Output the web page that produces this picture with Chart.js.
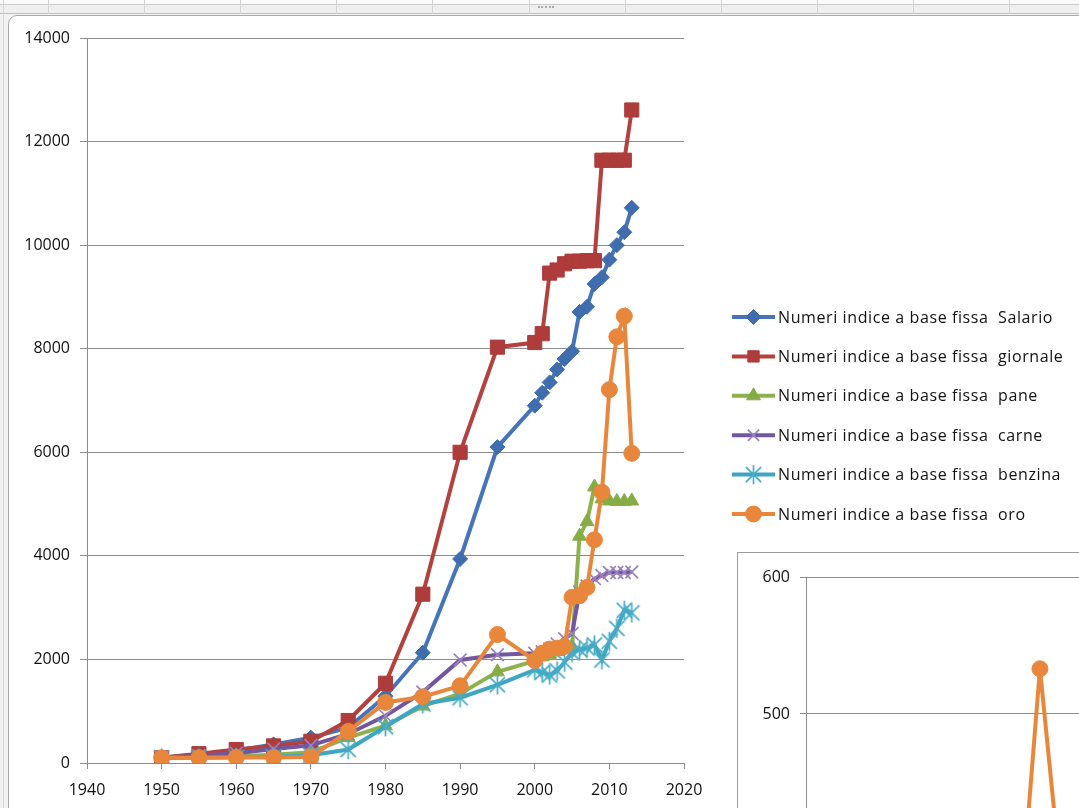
<!DOCTYPE html>
<html>
<head>
<meta charset="utf-8">
<title>Numeri indice a base fissa</title>
<script src="https://cdn.jsdelivr.net/npm/chart.js@4/dist/chart.umd.min.js"></script>
<style>
  html, body { margin: 0; padding: 0; width: 1079px; height: 808px; overflow: hidden; background: #f1f1f1; }
  #sheet { position: absolute; left: 0; top: 0; width: 1079px; height: 15px;
    background: linear-gradient(#fafafa 0 4px, #cbcbcb 4px 5px, #efefef 5px 13px, #bdbdbd 13px 14px, #f4f4f4 14px); }
  .col { position: absolute; top: 0; width: 1px; height: 14px; background: #d4d4d4; }
  #grip { position: absolute; left: 538px; top: 6px; width: 16px; height: 2px; border-top: 2px dotted #a8a8a8; }
  #leftRule { position: absolute; left: 3px; top: 0; width: 1px; height: 808px; background: #d8d8d8; }
  #frame { position: absolute; left: 8px; top: 15px; width: 1200px; height: 900px; background: #fff;
    border: 1px solid #a9a9a9; border-top-left-radius: 9px; }
  #main { position: absolute; left: 0; top: 0; }
  #insetBox { position: absolute; left: 737px; top: 552px; width: 800px; height: 900px; background: #fff; border: 1px solid #9c9c9c; }
  #inset { position: absolute; left: 738px; top: 553px; }
</style>
</head>
<body>
<div id="sheet"></div>
<div id="leftRule"></div>
<div id="grip"></div>
<div id="frame"></div>
<canvas id="main" width="1079" height="808"></canvas>
<div id="insetBox"></div>
<canvas id="inset" width="753" height="886"></canvas>
<script>
// spreadsheet column separators along the top strip
[48, 144, 240, 336, 432, 529, 625, 721, 817, 913, 1009].forEach(function (x) {
  const d = document.createElement('div');
  d.className = 'col';
  d.style.left = x + 'px';
  document.getElementById('sheet').appendChild(d);
});

// ---- data: fixed-base index numbers (1950 = 100) ----
const years = [1950, 1955, 1960, 1965, 1970, 1975, 1980, 1985, 1990, 1995,
               2000, 2001, 2002, 2003, 2004, 2005, 2006, 2007, 2008, 2009, 2010, 2011, 2012, 2013];

const salario  = [100, 170, 240, 360, 490, 680, 1290, 2130, 3940, 6100,
                  6900, 7150, 7350, 7600, 7800, 7950, 8710, 8810, 9250, 9380, 9720, 10000, 10250, 10720];
const giornale = [100, 180, 260, 330, 420, 820, 1540, 3260, 6000, 8030,
                  8120, 8290, 9460, 9520, 9640, 9690, 9690, 9700, 9700, 11640, 11640, 11640, 11640, 12610];
const pane     = [100, 110, 130, 160, 210, 490, 720, 1100, 1340, 1760,
                  1970, 2050, 2100, 2150, 2200, 2250, 4380, 4660, 5330, 5100, 5060, 5050, 5050, 5060];
const carne    = [100, 140, 190, 270, 340, 560, 910, 1370, 1990, 2090,
                  2120, 2150, 2200, 2300, 2400, 2500, 3300, 3420, 3560, 3620, 3680, 3680, 3680, 3690];
const benzina  = [100, 100, 110, 120, 150, 260, 700, 1140, 1260, 1510,
                  1800, 1750, 1700, 1780, 1950, 2130, 2190, 2220, 2280, 1990, 2350, 2600, 2950, 2900];
const oro      = [100, 103, 106, 108, 115, 610, 1170, 1280, 1490, 2480,
                  1980, 2120, 2200, 2220, 2250, 3200, 3230, 3390, 4310, 5230, 7210, 8230, 8630, 5980];

const seriesNames = ['Salario', 'giornale', 'pane', 'carne', 'benzina', 'oro'];
const seriesValues = [salario, giornale, pane, carne, benzina, oro];
const seriesColors = ['#4575b8', '#b3423f', '#8db24c', '#7456a0', '#3ea6c2', '#e8873b'];
const markerColors = ['#3f6dae', '#ad3c3a', '#86ad45', '#9a82bd', '#48abc7', '#e8873b'];

const xTicks = [1940, 1950, 1960, 1970, 1980, 1990, 2000, 2010, 2020];
const yTicks = [0, 2000, 4000, 6000, 8000, 10000, 12000, 14000];

// chain-based gold index shown in the second chart
const insetYears = [1955, 1960, 1965, 1970, 1975, 1980, 1985, 1990, 1995,
                    2000, 2001, 2002, 2003, 2004, 2005, 2006, 2007, 2008, 2009, 2010, 2011, 2012, 2013];
const oroMobile  = [103, 103, 102, 106, 533, 192, 109, 116, 166,
                    80, 107, 104, 101, 102, 142, 101, 105, 127, 121, 138, 114, 105, 69];
const insetYTicks = [0, 100, 200, 300, 400, 500, 600];

// Excel-like asterisk marker: X plus vertical bar
function starMarker(color, size) {
  const c = document.createElement('canvas');
  c.width = size; c.height = size;
  const g = c.getContext('2d');
  g.strokeStyle = color; g.lineWidth = 1.7; g.lineCap = 'round';
  const m = size / 2, r = size / 2 - 1.5;
  g.beginPath();
  g.moveTo(m - r * 0.8, m - r * 0.8); g.lineTo(m + r * 0.8, m + r * 0.8);
  g.moveTo(m + r * 0.8, m - r * 0.8); g.lineTo(m - r * 0.8, m + r * 0.8);
  g.moveTo(m, m - r); g.lineTo(m, m + r);
  g.stroke();
  return c;
}

const markerStyles = ['rectRot', 'rect', 'triangle', 'crossRot', starMarker('#48abc7', 21), 'circle'];
const markerRadius = [7.5, 10, 8, 9, 10, 8];
const markerBorder = [1, 1, 1, 1.7, 1, 1];

const FONT = "'Open Sans', 'Liberation Sans', sans-serif";
const GRID = '#8c8c8c';
const INK = '#111111';

const datasets = seriesNames.map(function (name, i) {
  return {
    label: 'Numeri indice a base fissa  ' + name,
    data: years.map(function (yr, k) { return { x: yr, y: seriesValues[i][k] }; }),
    borderColor: seriesColors[i],
    backgroundColor: seriesColors[i],
    borderWidth: 4,
    pointStyle: markerStyles[i],
    pointRadius: markerRadius[i],
    pointBorderWidth: markerBorder[i],
    pointBackgroundColor: markerColors[i],
    pointBorderColor: markerColors[i],
    tension: 0,
    order: seriesNames.length - i
  };
});

// legend drawn to the right of the plot, line + marker + label per series
const sideLegend = {
  id: 'sideLegend',
  afterDraw(chart) {
    const ctx = chart.ctx;
    chart.data.datasets.forEach(function (ds, i) {
      const y = 317 + i * 39.4;
      ctx.save();
      ctx.strokeStyle = ds.borderColor;
      ctx.lineWidth = 4;
      ctx.beginPath();
      ctx.moveTo(732, y); ctx.lineTo(775, y);
      ctx.stroke();
      ctx.fillStyle = ds.pointBackgroundColor;
      ctx.strokeStyle = ds.pointBorderColor;
      ctx.lineWidth = ds.pointBorderWidth;
      Chart.helpers.drawPoint(ctx, {
        pointStyle: ds.pointStyle, radius: Math.min(ds.pointRadius, 8), rotation: 0, borderWidth: ds.pointBorderWidth
      }, 753.5, y);
      ctx.fillStyle = INK;
      ctx.font = '16px ' + FONT;
      ctx.letterSpacing = '0.6px';
      ctx.textBaseline = 'middle';
      ctx.fillText(ds.label, 778, y + 1);
      ctx.restore();
    });
  }
};

new Chart(document.getElementById('main'), {
  type: 'line',
  data: { datasets: datasets },
  options: {
    responsive: false,
    animation: false,
    events: [],
    layout: { padding: { left: 0, top: 38, right: 395, bottom: 10 } },
    plugins: { legend: { display: false }, tooltip: { enabled: false } },
    scales: {
      x: {
        type: 'linear', min: xTicks[0], max: xTicks[xTicks.length - 1],
        afterBuildTicks(s) { s.ticks = xTicks.map(function (v) { return { value: v }; }); },
        ticks: { color: INK, font: { family: FONT, size: 16 }, padding: 12,
                 maxRotation: 0, callback: function (v) { return String(v); } },
        grid: { drawOnChartArea: false, drawTicks: true, tickLength: 6, color: GRID },
        border: { color: GRID, width: 1 },
        afterFit(s) { s.height = 35; }
      },
      y: {
        min: yTicks[0], max: yTicks[yTicks.length - 1],
        afterBuildTicks(s) { s.ticks = yTicks.map(function (v) { return { value: v }; }); },
        ticks: { color: INK, font: { family: FONT, size: 16 }, padding: 10,
                 callback: function (v) { return String(v); } },
        grid: { color: GRID, tickLength: 7, lineWidth: 1 },
        border: { color: GRID, width: 1 },
        afterFit(s) { s.width = 87; }
      }
    }
  },
  plugins: [sideLegend]
});

new Chart(document.getElementById('inset'), {
  type: 'line',
  data: {
    datasets: [{
      label: 'Numeri indice a base mobile  oro',
      data: insetYears.map(function (yr, k) { return { x: yr, y: oroMobile[k] }; }),
      borderColor: '#e8873b', backgroundColor: '#e8873b', borderWidth: 4,
      pointStyle: 'circle', pointRadius: 8, pointBorderWidth: 1,
      pointBackgroundColor: '#e8873b', pointBorderColor: '#e8873b', tension: 0
    }]
  },
  options: {
    responsive: false,
    animation: false,
    events: [],
    layout: { padding: { left: 0, top: 24, right: 30, bottom: 0 } },
    plugins: { legend: { display: false }, tooltip: { enabled: false } },
    scales: {
      x: {
        type: 'linear', min: 1950, max: 2020,
        ticks: { stepSize: 10, color: INK, font: { family: FONT, size: 16 },
                 callback: function (v) { return String(v); } },
        grid: { drawOnChartArea: false, tickLength: 6, color: GRID },
        border: { color: GRID },
        afterFit(s) { s.height = 40; }
      },
      y: {
        min: 0, max: 600,
        afterBuildTicks(s) { s.ticks = insetYTicks.map(function (v) { return { value: v }; }); },
        ticks: { color: INK, font: { family: FONT, size: 16 }, padding: 10,
                 callback: function (v) { return String(v); } },
        grid: { color: GRID, tickLength: 6 },
        border: { color: GRID },
        afterFit(s) { s.width = 68; }
      }
    }
  }
});
</script>
</body>
</html>
